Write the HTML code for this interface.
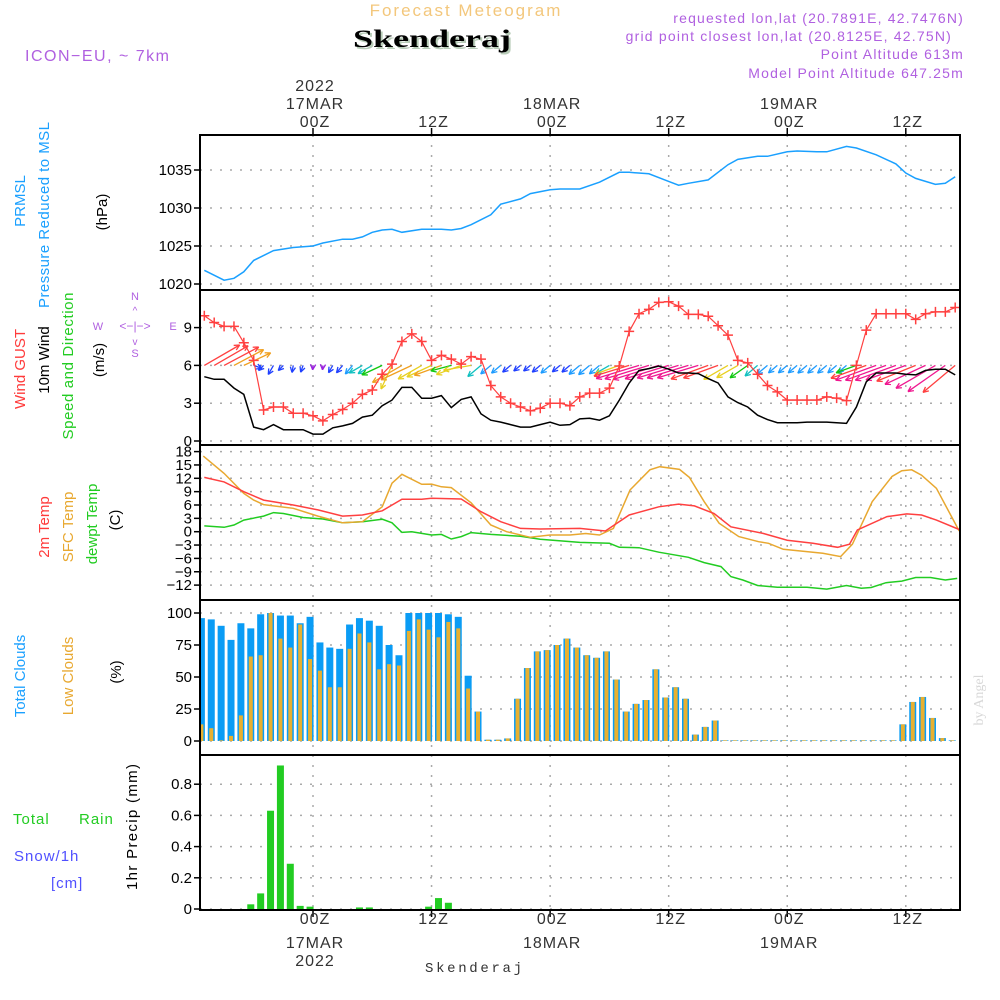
<!DOCTYPE html>
<html><head><meta charset="utf-8"><style>
html,body{margin:0;padding:0;background:#fff;}
svg{display:block;font-family:"Liberation Sans",sans-serif;}
</style></head><body>
<svg id="chart" width="1000" height="1000" viewBox="0 0 1000 1000" xmlns="http://www.w3.org/2000/svg">
<defs><clipPath id="plotclip"><rect x="200" y="135" width="760" height="775"/></clipPath></defs>
<text x="466" y="16" text-anchor="middle" font-size="17" fill="#f3c77c" letter-spacing="2">Forecast Meteogram</text>
<text x="355" y="49" font-family="Liberation Serif, serif" font-weight="bold" font-size="25" fill="#b8ccb8" textLength="158" lengthAdjust="spacingAndGlyphs">Skenderaj</text>
<text x="353" y="47" font-family="Liberation Serif, serif" font-weight="bold" font-size="25" fill="#000" textLength="158" lengthAdjust="spacingAndGlyphs">Skenderaj</text>
<text x="25" y="61" font-size="16" fill="#b060e0" letter-spacing="1.5">ICON−EU, ~ 7km</text>
<g font-size="14" fill="#b060e0" text-anchor="end" letter-spacing="1.2">
<text x="964" y="23">requested lon,lat (20.7891E, 42.7476N)</text>
<text x="952" y="41">grid point closest lon,lat (20.8125E, 42.75N)</text>
<text x="964" y="59">Point Altitude 613m</text>
<text x="964" y="78">Model Point Altitude 647.25m</text>
</g>
<g font-size="15">
<text transform="translate(25,201) rotate(-90)" text-anchor="middle" fill="#1aa0ff">PRMSL</text>
<text transform="translate(49,215) rotate(-90)" text-anchor="middle" fill="#1aa0ff" textLength="186">Pressure Reduced to MSL</text>
<text transform="translate(107,212) rotate(-90)" text-anchor="middle" fill="#000">(hPa)</text>
<text transform="translate(25,369) rotate(-90)" text-anchor="middle" fill="#ff3b3b">Wind GUST</text>
<text transform="translate(49,360) rotate(-90)" text-anchor="middle" fill="#000">10m Wind</text>
<text transform="translate(73,366) rotate(-90)" text-anchor="middle" fill="#22cc22" textLength="147">Speed and Direction</text>
<text transform="translate(104,360) rotate(-90)" text-anchor="middle" fill="#000">(m/s)</text>
<text transform="translate(49,527) rotate(-90)" text-anchor="middle" fill="#ff3b3b">2m Temp</text>
<text transform="translate(73,527) rotate(-90)" text-anchor="middle" fill="#e8a830">SFC Temp</text>
<text transform="translate(97,524) rotate(-90)" text-anchor="middle" fill="#22cc22">dewpt Temp</text>
<text transform="translate(120,520) rotate(-90)" text-anchor="middle" fill="#000">(C)</text>
<text transform="translate(25,676) rotate(-90)" text-anchor="middle" fill="#1aa0ff">Total Clouds</text>
<text transform="translate(73,676) rotate(-90)" text-anchor="middle" fill="#e8a830">Low Clouds</text>
<text transform="translate(121,672) rotate(-90)" text-anchor="middle" fill="#000">(%)</text>
<text transform="translate(137,827) rotate(-90)" text-anchor="middle" fill="#000" textLength="126">1hr Precip (mm)</text>
<text x="13" y="824" fill="#22cc22" letter-spacing="1">Total</text>
<text x="79" y="824" fill="#22cc22" letter-spacing="1">Rain</text>
<text x="14" y="861" fill="#5050ff" letter-spacing="1">Snow/1h</text>
<text x="51" y="888" fill="#5050ff" letter-spacing="1">[cm]</text>
</g>
<g font-size="11" fill="#b060e0" text-anchor="middle">
<text x="98" y="330">W</text><text x="173" y="330">E</text>
<text x="135" y="300">N</text><text x="135" y="357">S</text>
<text x="135" y="330" font-size="12">&lt;−|−&gt;</text>
<text x="135" y="314" font-size="10">^</text><text x="135" y="345" font-size="10">v</text>
</g>
<text transform="translate(983,700) rotate(-90)" text-anchor="middle" font-family="Liberation Serif, serif" font-size="14" fill="#d8d8d8">by Angel</text>
<text x="425" y="972" font-family="Liberation Mono, monospace" font-size="14" fill="#333" textLength="97">Skenderaj</text>
<g id="grid"></g><g id="marks" clip-path="url(#plotclip)"></g><g id="axes"></g>
</svg>
<script>
// ---- data ----
var hours = [];
for (var k = -11; k <= 65; k++) hours.push(k);
var pressureHours = [-11,-9,-8,-7,-6,-4,-2,0,1,3,4,5,6,7,8,9,11,13,14,15,16,18,19,21,22,24,25,27,29,31,32,34,36,37,38,40,42,43,45,46,48,49,51,52,54,55,57,59,60,61,63,64,65];
var pressureValues = [1021.8,1020.5,1020.75,1021.6,1023.1,1024.4,1024.8,1025.0,1025.4,1025.9,1025.9,1026.2,1026.8,1027.1,1027.2,1026.8,1027.2,1027.2,1027.1,1027.3,1027.8,1029.1,1030.5,1031.2,1031.9,1032.4,1032.5,1032.5,1033.4,1034.7,1034.7,1034.5,1033.5,1033.0,1033.25,1033.7,1035.7,1036.4,1036.8,1036.8,1037.4,1037.5,1037.4,1037.4,1038.1,1037.9,1037.0,1035.8,1034.6,1033.9,1033.1,1033.25,1034.1];
var gustValues = [9.94,9.4,9.1,9.1,7.8,6.4,2.46,2.7,2.7,2.2,2.2, 2.0,1.6,2.1,2.5,3.0,3.7,4.05,5.3,6.1,7.9, 8.5,7.9,6.4,6.8,6.5,6.1,6.7,6.5,4.4,3.5, 3.0,2.7,2.4,2.6,3.0,3.0,2.8,3.5,3.8,3.8, 4.2,5.95,8.7,10.1,10.45,11.0,11.05,10.7,10.05,10.05, 9.9,9.15,8.4,6.4,6.2,5.3,4.4,3.9,3.25,3.25, 3.25,3.25,3.5,3.4,3.2,6.0,8.8,10.1,10.1,10.1, 10.1,9.65,10.1,10.25,10.25,10.6];
var windValues = [5.1,4.9,4.9,4.2,3.7,1.1,0.9,1.3,0.9,0.9,0.9, 0.55,0.55,1.05,1.2,1.4,1.9,2.05,2.8,3.25,4.25, 4.25,3.4,3.4,3.6,2.65,3.3,3.5,2.15,1.65,1.5, 1.3,1.1,1.1,1.3,1.5,1.25,1.3,1.75,1.8,1.65, 2.0,3.25,4.6,5.6,5.75,5.95,5.7,5.4,5.4,5.35, 4.95,4.6,3.5,3.05,2.7,2.05,1.7,1.45,1.45,1.45, 1.5,1.5,1.5,1.45,1.4,2.7,4.7,5.4,5.4,5.4, 5.3,5.25,5.6,5.7,5.7,5.25];
var windDirDeg = [30,30,28,28,25,-20,-135,-120,-135,-100,-110, -95,-95,-120,-130,-130,-150,-150,-155,-115,-150, -155,-150,-155,-160,-165,-160,-170,-140,-140,-140, -140,-140,-140,-140,-140,-140,-140,-140,-140,-140, -150,-160,-163,-163,-163,-163,-163,-163,-163,-163, -160,-160,-150,-150,-145,-140,-140,-140,-140,-140, -140,-140,-140,-140,-140,-160,-160,-160,-160,-160, -160,-158,-155,-150,-145,-140];
var temp2mHours = [-11,-9,-7,-5,-2,0.5,3,5,7,9,11,12,15,17,19,21,23,27,29.6,32,35,37,38.6,40.6,42.3,45.6,48,50.6,53.1,54.3,55.1,58.1,60.1,61.6,63.1,65.4];
var temp2mValues = [12.2,11.2,9.0,7.1,6.0,4.9,3.5,3.75,4.7,7.3,7.3,7.5,7.35,4.5,2.25,0.75,0.6,0.75,0.15,3.75,5.6,6.2,5.8,4.1,1.1,-0.4,-1.9,-2.6,-3.5,-2.8,0.4,3.4,4.0,3.75,2.6,0.5];
var sfcHours = [-11.1,-9,-7,-6,-5,-2,0.5,3,5,7,8,9,11,12,13,14,16,18,19.6,22,24,26,27.6,29,30.4,32.1,34.1,35.1,37.1,38.1,39.6,41.1,43.1,45.1,46.1,47.6,50.1,51.6,53.4,54.6,56.6,58.6,59.6,60.6,61.6,63.1,65.4];
var sfcValues = [17.0,13.1,8.6,7.1,6.1,5.25,3.5,2.0,2.25,5.6,10.9,12.9,10.65,10.7,10.1,9.9,6.5,1.5,0,-1.25,-0.75,-0.75,-0.4,-0.75,0.75,9.4,13.9,14.6,14.0,12.2,6.75,1.9,-1.1,-2.25,-2.6,-3.95,-4.5,-4.85,-5.6,-2.8,6.75,12.4,13.7,13.9,12.7,9.75,0.15];
var dewHours = [-11,-9,-8,-7,-5,-4,-3,-1,1,3,5,7,8,9,10,12,13,14,15,16,18,21,23,27,30,31,33,35,38,39.6,41.3,42.3,43.5,45,47,50,52,54,55.5,56.5,58,59.6,61,62.5,64,65.2];
var dewValues = [1.3,1.0,1.5,2.6,3.5,4.3,4.1,3.2,2.85,2.0,2.25,2.8,2.0,-0.15,0,-0.75,-0.6,-1.65,-1.1,-0.2,-0.6,-1.0,-1.7,-2.4,-2.6,-3.5,-3.6,-4.6,-5.75,-6.95,-7.85,-10.1,-10.85,-12.1,-12.5,-12.5,-12.9,-12.1,-12.7,-12.55,-11.45,-11.1,-10.3,-10.3,-10.85,-10.5];
var totalClouds = [96,95,90,79,92,88,99,100,98,98,92, 97,77,73,72,91,96,94,90,75,67, 100,100,100,100,99,97,51,23,1,1, 2,33,57,70,71,75,80,73,67,65, 70,48,23,29,32,56,34,42,33,5, 11,16,0.5,0.5,0.5,0.5,0.5,0.5,0.5,0.5, 0.5,0.5,0.5,0.5,0.5,0.5,0.5,0.5,0.5,0.5, 13,30.5,34.4,18,2.3,0.5];
var lowClouds = [13,10,0.5,4,20,66,67,100,80,73,91, 64,55,42,42,72,84,77,56,60,59, 86,95,87,81,93,88,41,23,1,1, 2,33,57,70,71,75,80,73,67,65, 70,48,23,29,32,56,34,42,33,5, 11,16,0.5,0.5,0.5,0.5,0.5,0.5,0.5,0.5, 0.5,0.5,0.5,0.5,0.5,0.5,0.5,0.5,0.5,0.5, 13,30.5,34.4,18,2.3,0.5];
var precipValues = [0,0,0,0,0,0.03,0.10,0.63,0.92,0.29,0.02, 0.015,0,0,0,0,0.01,0.01,0,0,0, 0,0,0.015,0.07,0.04,0,0,0,0,0, 0,0,0,0,0,0,0,0,0,0, 0,0,0,0,0,0,0,0,0,0, 0,0,0,0,0,0,0,0,0,0, 0,0,0,0,0,0,0,0,0,0, 0,0,0,0,0,0];
var pressureTicks = [1020,1025,1030,1035];
var windTicks = [0,3,6,9];
var tempTicks = [-12,-9,-6,-3,0,3,6,9,12,15,18];
var cloudTicks = [0,25,50,75,100];
var precipTicks = [0,0.2,0.4,0.6,0.8];
var timeTickHours = [0,12,24,36,48,60];
var timeTickLabels = ["00Z","12Z","00Z","12Z","00Z","12Z"];
var dateLabels = ["17MAR","","18MAR","","19MAR",""];

// ---- scales ----
var NS = "http://www.w3.org/2000/svg";
function xs(h){ return 313 + h*9.88; }
function yP(v){ return 284 - (v-1020)*7.6; }
function yW(v){ return 441 - v*12.6; }
function yT(v){ return 531.7 - v*4.45; }
function yC(v){ return 741 - v*1.28; }
function yR(v){ return 909 - v*156; }
function mk(tag, attrs, parent){
  var e = document.createElementNS(NS, tag);
  for (var a in attrs) e.setAttribute(a, attrs[a]);
  parent.appendChild(e); return e;
}
var grid = document.getElementById('grid'), marks = document.getElementById('marks'), axes = document.getElementById('axes');

function hgrid(ticks, yf, fmt){
  ticks.forEach(function(t){
    var y = yf(t);
    var l = mk('line', {x1:200, x2:960, y1:y, y2:y, stroke:'#aaa', 'stroke-width':1.5, 'stroke-dasharray':'2,8'}, grid);
    
    
    mk('line', {x1:194, x2:200, y1:y, y2:y, stroke:'#000', 'stroke-width':1.5}, axes);
    var tx = mk('text', {x:192, y:y+5, 'text-anchor':'end', 'font-size':15, fill:'#000'}, axes);
    tx.textContent = fmt(t);
    
    
  });
}
hgrid(pressureTicks, yP, String);
hgrid(windTicks, yW, String);
hgrid(tempTicks, yT, function(t){ return t<0 ? '−'+(-t) : String(t); });
hgrid(cloudTicks, yC, String);
hgrid(precipTicks, yR, function(t){ return t===0 ? '0' : t.toFixed(1); });
timeTickHours.forEach(function(h, i){
  var x = xs(h);
  var l = mk('line', {x1:x, x2:x, y1:135, y2:910, stroke:'#aaa', 'stroke-width':1.5, 'stroke-dasharray':'2,8'}, grid);
  
  
  mk('line', {x1:x, x2:x, y1:128, y2:135, stroke:'#000', 'stroke-width':1.5}, axes);
  mk('line', {x1:x, x2:x, y1:910, y2:917, stroke:'#000', 'stroke-width':1.5}, axes);
  var t1 = mk('text', {x:x+2, y:127, 'text-anchor':'middle', 'font-size':16, fill:'#333', 'letter-spacing':1}, axes);
  t1.textContent = timeTickLabels[i];
  
  
  var t2 = mk('text', {x:x+2, y:924, 'text-anchor':'middle', 'font-size':16, fill:'#333', 'letter-spacing':1}, axes);
  t2.textContent = timeTickLabels[i];
  
  
  if (dateLabels[i]) {
    var d1 = mk('text', {x:x+2, y:109, 'text-anchor':'middle', 'font-size':16, fill:'#333', 'letter-spacing':1}, axes);
    d1.textContent = dateLabels[i];
    
    
    var d2 = mk('text', {x:x+2, y:948, 'text-anchor':'middle', 'font-size':16, fill:'#333', 'letter-spacing':1}, axes);
    d2.textContent = dateLabels[i];
    
    
  }
  if (i === 0) {
    var y1 = mk('text', {x:x+2, y:91, 'text-anchor':'middle', 'font-size':16, fill:'#333', 'letter-spacing':1}, axes);
    y1.textContent = '2022';
    
    
    var y2 = mk('text', {x:x+2, y:966, 'text-anchor':'middle', 'font-size':16, fill:'#333', 'letter-spacing':1}, axes);
    y2.textContent = '2022';
    
    
  }
});

[135,290,445,600,755].forEach(function(top){
  var r = mk('rect', {x:200, y:top, width:760, height:155, fill:'none', stroke:'#000', 'stroke-width':2}, axes);
  
  
});

function poly(hs, vs, yf, color, name, w){
  var pts = hs.map(function(h, i){ return xs(h).toFixed(1)+','+yf(vs[i]).toFixed(1); }).join(' ');
  var p = mk('polyline', {points:pts, fill:'none', stroke:color, 'stroke-width':w||1.5}, marks);
  
  
  return p;
}
poly(pressureHours, pressureValues, yP, '#1aa0ff', 'pressure-line');

hours.forEach(function(h, i){
  var x = xs(h - 0.5) + 2;
  var b = mk('rect', {x:x-3.5, y:yC(totalClouds[i]), width:7, height:yC(0)-yC(totalClouds[i]), fill:'#0a9cf5'}, marks);
  
  
  var o = mk('rect', {x:x-2, y:yC(lowClouds[i]), width:4, height:yC(0)-yC(lowClouds[i]), fill:'#e8b030'}, marks);
  
  
  if (precipValues[i] > 0) {
    var r = mk('rect', {x:x-3.5, y:yR(precipValues[i]), width:7, height:yR(0)-yR(precipValues[i]), fill:'#22cc22'}, marks);
    
    
  }
});

function windColor(s){
  if (s < 0.8) return '#9a20e0';
  if (s < 1.4) return '#2040ff';
  if (s < 1.9) return '#1e9cff';
  if (s < 2.3) return '#10c0c0';
  if (s < 3.0) return '#10c810';
  if (s < 3.6) return '#e8d020';
  if (s < 4.5) return '#f0a020';
  if (s < 5.3) return '#ff4040';
  return '#f01890';
}
hours.forEach(function(h, i){
  var s = windValues[i], a = windDirDeg[i]*Math.PI/180;
  var x0 = xs(h), y0 = yW(6);
  var L = s*8;
  var x1 = x0 + L*Math.cos(a), y1 = y0 - L*Math.sin(a);
  var c = windColor(s);
  var g = mk('g', {stroke:c, 'stroke-width':1.3, fill:'none'}, marks);
  
  
  mk('line', {x1:x0, y1:y0, x2:x1, y2:y1}, g);
  [0.45, -0.45].forEach(function(d){
    var b = a + Math.PI + d;
    mk('line', {x1:x1, y1:y1, x2:x1 + 6*Math.cos(b), y2:y1 - 6*Math.sin(b)}, g);
  });
});
poly(hours, windValues, yW, '#000', 'wind-speed-line');
poly(hours, gustValues, yW, '#ff4040', 'gust-line', 1.2);
hours.forEach(function(h, i){
  var x = xs(h), y = yW(gustValues[i]);
  var g = mk('path', {d:'M'+(x-5)+' '+y+'h10M'+x+' '+(y-5)+'v10', stroke:'#ff4040', 'stroke-width':1.5}, marks);
  
  
});

poly(dewHours, dewValues, yT, '#22cc22', 'dewpoint-line');
poly(sfcHours, sfcValues, yT, '#e8a830', 'sfc-temp-line');
poly(temp2mHours, temp2mValues, yT, '#ff4040', 'temp-2m-line');
</script>
</body></html>
